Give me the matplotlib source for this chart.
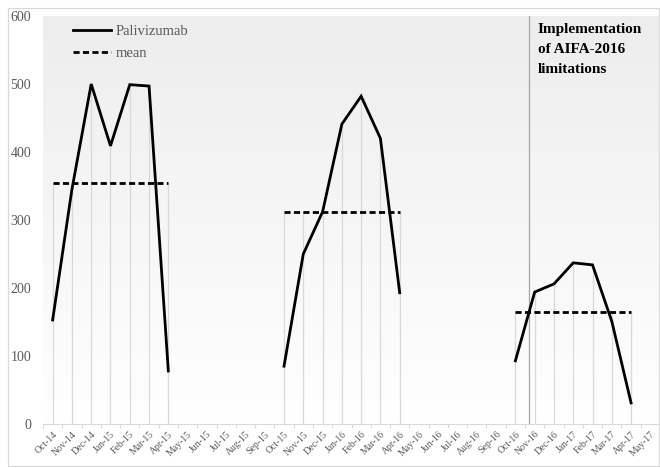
import numpy as np
import matplotlib.pyplot as plt
from matplotlib.lines import Line2D
from matplotlib.colors import LinearSegmentedColormap

# months from Oct-14 to May-17
months = ['Oct-14', 'Nov-14', 'Dec-14', 'Jan-15', 'Feb-15', 'Mar-15', 'Apr-15', 'May-15',
          'Jun-15', 'Jul-15', 'Aug-15', 'Sep-15', 'Oct-15', 'Nov-15', 'Dec-15', 'Jan-16',
          'Feb-16', 'Mar-16', 'Apr-16', 'May-16', 'Jun-16', 'Jul-16', 'Aug-16', 'Sep-16',
          'Oct-16', 'Nov-16', 'Dec-16', 'Jan-17', 'Feb-17', 'Mar-17', 'Apr-17', 'May-17']

nan = np.nan
palivizumab = [153, 345, 500, 409, 499, 497, 78, nan,
               nan, nan, nan, nan, 85, 250, 312, 441,
               482, 420, 193, nan, nan, nan, nan, nan,
               93, 194, 206, 237, 234, 151, 31, nan]
season_mean = [354] * 7 + [nan] * 5 + [312] * 7 + [nan] * 5 + [164] * 7 + [nan]

aifa_pos = 24.7  # between Oct-16 and Nov-16
yticks = [0, 100, 200, 300, 400, 500, 600]

plt.rcParams['font.family'] = ['Liberation Serif', 'DejaVu Serif']

fig = plt.figure(figsize=(6.6, 4.68), dpi=100)
# light border around the whole chart
fig.patches.append(plt.Rectangle((8 / 660, 2 / 468), 651 / 660, 458 / 468,
                                 transform=fig.transFigure, fill=False,
                                 edgecolor='#d9d9d9', lw=0.8))
ax = fig.add_axes([43 / 660, 44 / 468, 617 / 660, 408 / 468])

x = np.arange(len(months))
y = np.array(palivizumab, dtype=float)
m = np.array(season_mean, dtype=float)

# gradient background
grad = np.linspace(1, 0, 256).reshape(-1, 1)
cmap = LinearSegmentedColormap.from_list('g', ['#ffffff', '#ededed'])
ax.imshow(grad, extent=[-0.5, len(months) - 0.5, 0, 600], aspect='auto',
          cmap=cmap, vmin=0, vmax=1, zorder=0)

# drop lines
top = np.fmax(y, m)
for xi, t in zip(x, top):
    if not np.isnan(t):
        ax.plot([xi, xi], [0, t], color='#d9d9d9', lw=0.9, zorder=1)

ax.plot([aifa_pos, aifa_pos], [0, 600], color='#a6a6a6', lw=0.9, zorder=1)

ax.plot(x, y, color='black', lw=2, zorder=3, solid_joinstyle='miter')
ax.plot(x, m, color='black', lw=2, ls=(0, (2.2, 1.2)), zorder=3)

ax.text(aifa_pos + 0.45, 590, 'Implementation\nof AIFA-2016\nlimitations',
        fontsize=11, fontweight='bold', va='top', ha='left', linespacing=1.7)

ax.set_xlim(-0.5, len(months) - 0.5)
ax.set_ylim(0, 600)
ax.set_xticks(np.arange(len(months) + 1) - 0.5)
ax.set_xticklabels([])
ax.set_xticks(x, minor=True)
ax.set_xticklabels(months, minor=True, rotation=45, ha='right', va='top',
                   rotation_mode='anchor', fontsize=7, color='#595959')
ax.tick_params(axis='x', which='major', length=3, color='#d9d9d9')
ax.tick_params(axis='x', which='minor', length=0, pad=4)
ax.set_yticks(yticks)
ax.set_yticklabels([str(v) for v in yticks], fontsize=10, color='#595959')
ax.tick_params(axis='y', length=0, pad=8.5)

for s in ['top', 'right', 'left']:
    ax.spines[s].set_visible(False)
ax.spines['bottom'].set_color('#d9d9d9')

handles = [Line2D([], [], color='black', lw=2),
           Line2D([], [], color='black', lw=2, ls=(0, (2.2, 1.2)))]
leg = ax.legend(handles, ['Palivizumab', 'mean'], loc='upper left',
                bbox_to_anchor=(0.035, 1.0), frameon=False, fontsize=10.5,
                handlelength=2.6, handletextpad=0.3, labelspacing=0.6,
                labelcolor='#595959', borderaxespad=0.2)

fig.savefig('out.png', dpi=100)
